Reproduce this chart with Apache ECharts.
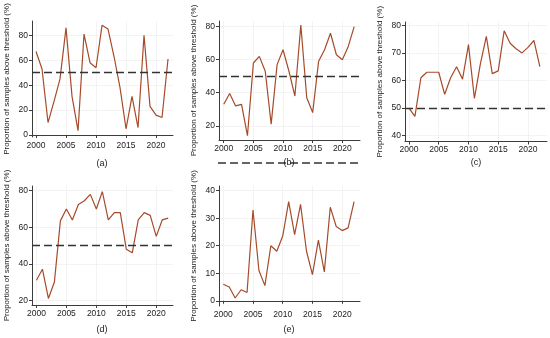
<!DOCTYPE html>
<html>
<head>
<meta charset="utf-8">
<script src="https://cdn.jsdelivr.net/npm/echarts@6/dist/echarts.min.js"></script>
<style>
html, body { margin: 0; padding: 0; background: #fff; }
#main { width: 550px; height: 338px; }
</style>
</head>
<body>
<div id="main"></div>
<script>
// data
var years = [2000, 2001, 2002, 2003, 2004, 2005, 2006, 2007, 2008, 2009, 2010,
             2011, 2012, 2013, 2014, 2015, 2016, 2017, 2018, 2019, 2020, 2021, 2022];
var valuesA = [67, 53, 10, 27, 45, 86, 31, 3.5, 81, 58, 54, 88, 85, 63, 38, 5, 31, 6, 80, 23, 16, 14, 61];
var valuesB = [33, 39.5, 32, 33, 14, 58, 62, 53, 21, 57, 66, 53, 38, 81, 37, 28, 59, 66, 76, 63, 60, 68, 80];
var valuesC = [50, 47, 61, 63, 63, 63, 55, 61, 65, 60.5, 73, 53.5, 66, 76, 62.5, 63.5, 78, 73.5, 71.5, 70, 72, 74.5, 65];
var valuesD = [31, 37, 21, 30, 63.5, 70, 64, 72.5, 74.5, 78, 70, 79.5, 64, 68, 68, 48, 46, 64, 68, 66.5, 55, 64, 65];
var valuesE = [6, 5, 1, 4, 3, 33, 11, 5.5, 20, 18, 23.5, 36, 24, 35, 18, 9.5, 22, 10.5, 34, 27, 25.5, 26.5, 36];

var xTicks = [2000, 2005, 2010, 2015, 2020];
var yTicksA = [0, 20, 40, 60, 80];
var yTicksB = [20, 40, 60, 80];
var yTicksC = [40, 50, 60, 70, 80];
var yTicksD = [20, 40, 60, 80];
var yTicksE = [0, 10, 20, 30, 40];
var threshold = 50;

var lineColor = '#a64b2a';
var axisColor = '#3c3c3c';
var font = 'Liberation Sans, Arial, sans-serif';
var yTitle = 'Proportion of samples above threshold (%)';

var panels = [
    { vals: valuesA, ticks: yTicksA, grid: { left: 32, top: 21, width: 141, height: 116 }, x: [1999.33, 2022.83], y: [-1.6, 91.5], dash: true },
    { vals: valuesB, ticks: yTicksB, grid: { left: 219, top: 21, width: 141, height: 119 }, x: [1999.2, 2022.98], y: [11.4, 83.4], dash: true },
    { vals: valuesC, ticks: yTicksC, grid: { left: 405, top: 22, width: 142, height: 119.5 }, x: [1999.33, 2023.2], y: [37.9, 81.2], dash: true },
    { vals: valuesD, ticks: yTicksD, grid: { left: 32, top: 186, width: 141, height: 119 }, x: [1999.26, 2022.8], y: [17.4, 82.6], dash: true },
    { vals: valuesE, ticks: yTicksE, grid: { left: 219, top: 186, width: 141, height: 120 }, x: [1999.28, 2023], y: [-1.9, 41.7], dash: false }
];

function plain(v) { return String(v); }

var grids = [], xAxes = [], yAxes = [], series = [];

panels.forEach(function (p, i) {
    grids.push(p.grid);
    xAxes.push({
        type: 'value', gridIndex: i, min: p.x[0], max: p.x[1],
        axisLine: { show: true, lineStyle: { color: axisColor, width: 1 } },
        axisTick: { show: true, length: 3, customValues: xTicks, lineStyle: { color: axisColor } },
        axisLabel: { customValues: xTicks, formatter: plain, color: '#222', fontSize: 8.5, fontFamily: font, margin: 4 },
        splitLine: { show: true, lineStyle: { color: '#f0f0f0', width: 0.8 } }
    });
    yAxes.push({
        type: 'value', gridIndex: i, min: p.y[0], max: p.y[1],
        name: yTitle, nameLocation: 'middle', nameGap: 21,
        nameTextStyle: { color: '#222', fontSize: 8, fontFamily: font },
        axisLine: { show: true, lineStyle: { color: axisColor, width: 1 } },
        axisTick: { show: true, length: 3, customValues: p.ticks, lineStyle: { color: axisColor } },
        axisLabel: { customValues: p.ticks, formatter: plain, color: '#222', fontSize: 8.5, fontFamily: font, margin: 4 },
        splitLine: { show: true, lineStyle: { color: '#f0f0f0', width: 0.8 } }
    });
    var s = {
        type: 'line', xAxisIndex: i, yAxisIndex: i,
        data: years.map(function (yr, j) { return [yr, p.vals[j]]; }),
        symbol: 'none', silent: true,
        lineStyle: { color: lineColor, width: 1.2 }
    };
    if (p.dash) {
        s.markLine = {
            silent: true, symbol: ['none', 'none'],
            label: { show: false },
            lineStyle: { color: '#333', width: 1.3, type: [8, 4] },
            data: [{ yAxis: threshold }]
        };
    }
    series.push(s);
});

var tags = [
    { t: '(a)', x: 102, y: 164 },
    { t: '(b)', x: 289, y: 163 },
    { t: '(c)', x: 476, y: 163 },
    { t: '(d)', x: 102, y: 330 },
    { t: '(e)', x: 289, y: 330 }
];

var graphics = tags.map(function (g) {
    return {
        type: 'text', x: g.x, y: g.y,
        style: { text: g.t, fill: '#222', font: '9px ' + font, textAlign: 'center', textVerticalAlign: 'middle' }
    };
});
// stray dashed rule under panel (b)
graphics.unshift({
    type: 'line', shape: { x1: 218, y1: 163, x2: 360, y2: 163 },
    style: { stroke: '#333', lineWidth: 1.3, lineDash: [8, 4] }
});

var chart = echarts.init(document.getElementById('main'));
chart.setOption({
    animation: false,
    backgroundColor: '#fff',
    grid: grids,
    xAxis: xAxes,
    yAxis: yAxes,
    series: series,
    graphic: graphics
});
</script>
</body>
</html>
